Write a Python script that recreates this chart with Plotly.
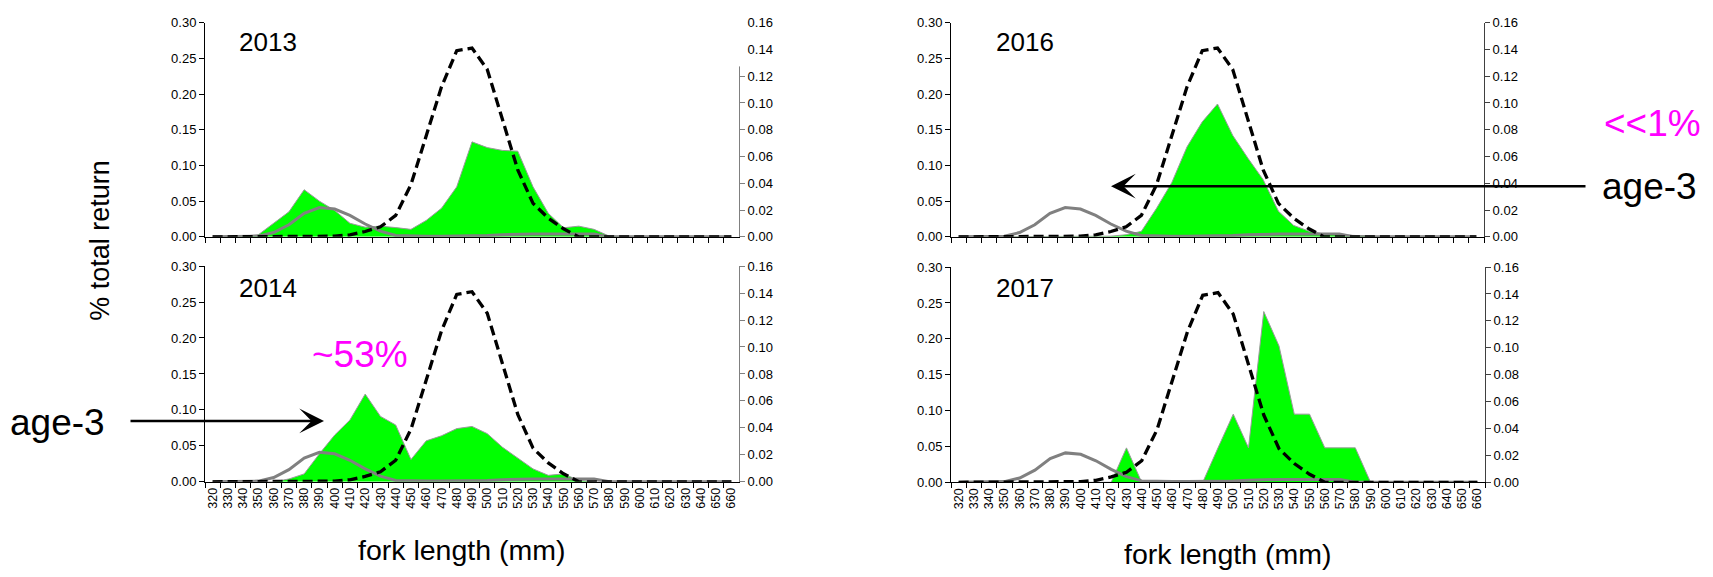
import plotly.graph_objects as go

# ---------------- data ----------------
fork_length = [str(v) for v in range(320, 661, 10)]

# reference curves (identical in every panel)
dashed_ref = [0, 0, 0, 0, 0, 0, 0, 0, 0.0005, 0.0015, 0.004, 0.0075, 0.016, 0.039,
              0.075, 0.112, 0.139, 0.141, 0.125, 0.088, 0.050, 0.025, 0.014, 0.006,
              0, 0, 0, 0, 0, 0, 0, 0, 0, 0, 0]          # right axis
grey_ref = [0, 0, 0, 0.001, 0.006, 0.017, 0.033, 0.041, 0.039, 0.030, 0.018, 0.008,
            0.002, 0.001, 0.001, 0.001, 0.001, 0.002, 0.002, 0.003, 0.004, 0.004,
            0.004, 0.004, 0.004, 0.004, 0, 0, 0, 0, 0, 0, 0, 0, 0]  # left axis

green_2013 = [0, 0, 0.001, 0.003, 0.0195, 0.035, 0.066, 0.050, 0.037, 0.019, 0.0136,
              0.015, 0.013, 0.0105, 0.023, 0.040, 0.070, 0.133, 0.125, 0.121, 0.120,
              0.070, 0.033, 0.0127, 0.015, 0.0105, 0.001, 0, 0, 0, 0, 0, 0, 0, 0]
green_2014 = [0, 0, 0, 0, 0, 0.004, 0.011, 0.039, 0.065, 0.086, 0.122, 0.091, 0.079,
              0.031, 0.057, 0.064, 0.074, 0.077, 0.067, 0.048, 0.033, 0.018, 0.009,
              0.011, 0.002, 0, 0, 0, 0, 0, 0, 0, 0, 0, 0]
green_2016 = [0, 0, 0, 0, 0, 0, 0, 0, 0, 0, 0.001, 0.003, 0.0077, 0.040, 0.076, 0.126,
              0.161, 0.186, 0.142, 0.110, 0.080, 0.036, 0.016, 0.008, 0.004, 0.003,
              0.002, 0, 0, 0, 0, 0, 0, 0, 0]
green_2017 = [0, 0, 0, 0, 0, 0, 0, 0, 0, 0, 0, 0.048, 0, 0, 0, 0, 0, 0.048, 0.095,
              0.048, 0.238, 0.190, 0.095, 0.095, 0.048, 0.048, 0.048, 0, 0, 0, 0, 0,
              0, 0, 0]

left_ticks = [0, 0.05, 0.10, 0.15, 0.20, 0.25, 0.30]
right_ticks = [0, 0.02, 0.04, 0.06, 0.08, 0.10, 0.12, 0.14, 0.16]

# ---------------- layout ----------------
W, H = 1713, 577
FONT = "Liberation Sans, Arial, sans-serif"

panels = [
    dict(name="2013", green=green_2013, x0=205, x1=739, top=16, bot=236, showx=False, rcol="#808080"),
    dict(name="2014", green=green_2014, x0=205, x1=739, top=266, bot=487.5, showx=True, rcol="#808080"),
    dict(name="2016", green=green_2016, x0=951, x1=1484, top=16, bot=236, showx=False, rcol="#404040"),
    dict(name="2017", green=green_2017, x0=951, x1=1485, top=267, bot=488, showx=True, rcol="#404040"),
]

fig = go.Figure()
layout = {}
annotations = []

def ax_key(prefix, n):
    return prefix if n == 1 else f"{prefix}{n}"

def ax_ref(prefix, n):
    return prefix if n == 1 else f"{prefix}{n}"

for k, p in enumerate(panels, start=1):
    xl = ax_ref("x", k)
    yl = ax_ref("y", 2 * k - 1)
    yr = ax_ref("y", 2 * k)
    layout[ax_key("xaxis", k)] = dict(
        domain=[p["x0"] / W, p["x1"] / W], anchor=yl, type="category",
        categoryorder="array", categoryarray=fork_length, range=[-0.5, 34.5],
        tickson="boundaries", ticks="outside", ticklen=5, tickcolor="black",
        showline=True, linecolor="black", linewidth=1, showgrid=False,
        zeroline=False, showticklabels=p["showx"], tickangle=-90,
        tickmode="array", tickvals=fork_length, ticktext=fork_length,
        tickfont=dict(family=FONT, size=12.5, color="black"))
    layout[ax_key("yaxis", 2 * k - 1)] = dict(
        domain=[1 - p["bot"] / H, 1 - p["top"] / H], anchor=xl, range=[0, 0.30],
        tickvals=left_ticks, tickformat=".2f", ticks="outside", ticklen=5,
        tickcolor="black", showline=True, linecolor="black", linewidth=1,
        showgrid=False, zeroline=False,
        tickfont=dict(family=FONT, size=13, color="black"))
    layout[ax_key("yaxis", 2 * k)] = dict(
        overlaying=yl, side="right", anchor=xl, range=[0, 0.16],
        tickvals=right_ticks, tickformat=".2f", ticks="outside", ticklen=5,
        tickcolor=p["rcol"], showline=True, linecolor=p["rcol"], linewidth=1,
        showgrid=False, zeroline=False,
        tickfont=dict(family=FONT, size=13, color="black"))

    fig.add_trace(go.Scatter(x=fork_length, y=p["green"], xaxis=xl, yaxis=yl,
                             mode="lines", fill="tozeroy", fillcolor="#00FF00",
                             line=dict(color="#9a9a9a", width=1), hoverinfo="skip"))
    fig.add_trace(go.Scatter(x=fork_length, y=grey_ref, xaxis=xl, yaxis=yl,
                             mode="lines", line=dict(color="#808080", width=3),
                             hoverinfo="skip"))
    fig.add_trace(go.Scatter(x=fork_length, y=dashed_ref, xaxis=xl, yaxis=yr,
                             mode="lines", line=dict(color="black", width=3.3, dash="10px,5px"),
                             hoverinfo="skip"))

    tx = 237 if k <= 2 else 994
    ty = 36 if p["top"] < 100 else 289
    annotations.append(dict(text=p["name"], x=tx / W, y=1 - ty / H, xref="paper", yref="paper",
                            xanchor="left", yanchor="middle", showarrow=False,
                            font=dict(family=FONT, size=26, color="black")))

def txt(text, x, y, size, color="black", angle=0, xanchor="center"):
    annotations.append(dict(text=text, x=x / W, y=1 - y / H, xref="paper", yref="paper",
                            xanchor=xanchor, yanchor="middle", showarrow=False, textangle=angle,
                            font=dict(family=FONT, size=size, color=color)))

txt("% total return", 100, 240, 27, angle=-90)
txt("fork length (mm)", 461, 557, 28.5)
txt("fork length (mm)", 1227, 562, 28.5)
txt("~53%", 360, 357, 37, color="#FF00FF")
txt("<<1%", 1652, 120, 37, color="#FF00FF")
txt("age-3", 57, 427, 37)
txt("age-3", 1649, 184, 37)

def arrow(tail_x, tail_y, tip_x, tip_y):
    annotations.append(dict(text="", x=tip_x / W, y=1 - tip_y / H, xref="paper", yref="paper",
                            ax=tail_x - tip_x, ay=tail_y - tip_y, axref="pixel", ayref="pixel",
                            showarrow=True, arrowhead=3, arrowwidth=2.5, arrowsize=1.65,
                            arrowcolor="black", standoff=0, startstandoff=0))

arrow(129, 425, 324, 425)
arrow(1587, 184, 1111, 184)

shapes = [dict(type="rect", xref="paper", yref="paper", x0=735 / W, x1=746 / W,
               y0=1 - 61 / H, y1=1 - 6 / H, fillcolor="white", line=dict(width=0),
               layer="above")]

fig.update_layout(**layout)
fig.update_layout(width=W, height=H, autosize=False, margin=dict(l=0, r=0, t=0, b=0),
                  paper_bgcolor="white", plot_bgcolor="white", showlegend=False,
                  annotations=annotations, shapes=shapes,
                  font=dict(family=FONT, color="black"))

fig.write_html("out.html", config={"displayModeBar": False},
               post_script="document.body.style.margin='0';document.body.style.overflow='hidden';")
